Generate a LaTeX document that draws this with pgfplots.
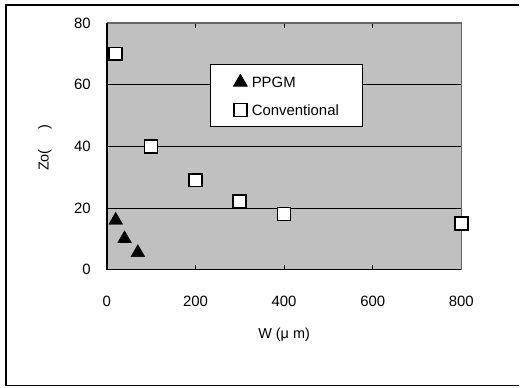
\documentclass[border=0pt]{standalone}
\usepackage{pgfplots}
\pgfplotsset{compat=1.18}
\usepackage{fontspec}
\setmainfont{Liberation Sans}
\definecolor{plotgray}{RGB}{192,192,192}
\begin{document}
\begin{tikzpicture}
\path (-107bp,-118bp) rectangle (413bp,270bp);
\begin{axis}[
  at={(0,0)}, anchor=south west,
  scale only axis,
  width=355bp, height=247bp,
  xmin=0, xmax=800, ymin=0, ymax=80,
  xtick={0,200,...,800}, ytick={0,20,...,80},
  /pgf/number format/assume math mode=true,
  tick label style={font=\fontsize{15}{16}\selectfont, inner sep=0pt},
  xticklabel style={anchor=center, yshift=-32bp},
  yticklabel style={anchor=east, xshift=-16bp},
  tick align=inside,
  major tick length=5bp,
  xtick style={black, line width=1bp},
  ytick style={draw=none},
  ymajorgrids,
  grid style={black, line width=0.7bp},
  axis background/.style={fill=plotgray},
  axis line style={draw=none},
  xlabel={W (μ m)},
  ylabel={Zo(\hspace{20bp})},
  every axis x label/.style={at={(axis description cs:0.5,-0.265)}, anchor=center, font=\fontsize{14.5}{16}\selectfont},
  every axis y label/.style={at={(axis description cs:-0.175,0.494)}, anchor=center, rotate=90, font=\fontsize{14.5}{16}\selectfont},
  legend style={at={(rel axis cs:0.29,0.834)}, anchor=north west, draw=black, line width=0.7bp, fill=white,
    font=\fontsize{15}{16}\selectfont, nodes={inner sep=0pt, text depth=0pt}, row sep=16bp, column sep=4.5bp,
    inner xsep=23.5bp, inner ysep=10bp},
  legend cell align=left,
  clip=false,
]
\draw[gray!80!black, line width=1.2bp] (rel axis cs:0,1) -- (rel axis cs:1,1) -- (rel axis cs:1,0);
\draw[black, line width=1.4bp] (rel axis cs:0,1) -- (rel axis cs:0,0) -- (rel axis cs:1,0);
\addplot[only marks, mark=triangle*, mark size=8bp, black] coordinates {
  (20,16) (40,10) (70,5.5)
};
\addlegendentry{PPGM}
\addplot[only marks, mark=square*, mark size=6.5bp, draw=black, fill=white, mark options={line width=1.6bp}] coordinates {
  (20,70) (100,40) (200,29) (300,22) (400,18) (800,15)
};
\addlegendentry{Conventional\hspace{-9bp}}
\end{axis}
\draw[black, line width=1.5bp] (413bp,265bp) -- (-101bp,265bp) -- (-101bp,-116bp) -- (413bp,-116bp);
\end{tikzpicture}
\end{document}
